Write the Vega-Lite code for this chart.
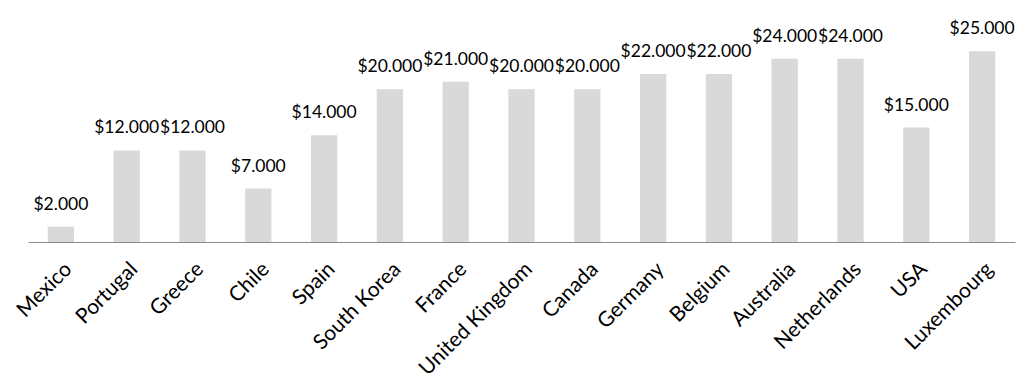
{
  "$schema": "https://vega.github.io/schema/vega-lite/v6.json",
  "width": 987,
  "height": 229,
  "autosize": {"type": "none"},
  "padding": {"left": 28, "top": 13, "right": 19, "bottom": 148},
  "background": "white",
  "config": {"view": {"stroke": null}, "font": "Lato"},
  "data": {"values": [
    {"country": "Mexico", "value": 2000},
    {"country": "Portugal", "value": 12000},
    {"country": "Greece", "value": 12000},
    {"country": "Chile", "value": 7000},
    {"country": "Spain", "value": 14000},
    {"country": "South Korea", "value": 20000},
    {"country": "France", "value": 21000},
    {"country": "United Kingdom", "value": 20000},
    {"country": "Canada", "value": 20000},
    {"country": "Germany", "value": 22000},
    {"country": "Belgium", "value": 22000},
    {"country": "Australia", "value": 24000},
    {"country": "Netherlands", "value": 24000},
    {"country": "USA", "value": 15000},
    {"country": "Luxembourg", "value": 25000}
  ]},
  "transform": [
    {"calculate": "'$' + replace(format(datum.value, ','), ',', '.')", "as": "label"}
  ],
  "encoding": {
    "x": {
      "field": "country", "type": "nominal", "sort": null,
      "scale": {"paddingInner": 0.6, "paddingOuter": 0.3},
      "axis": {
        "title": null, "labelAngle": -45, "labelFontSize": 21, "labelColor": "#000000",
        "labelFont": "Lato", "ticks": false, "labelPadding": 16,
        "domainColor": "#8c8c8c", "domainWidth": 1.2, "grid": false
      }
    },
    "y": {
      "field": "value", "type": "quantitative",
      "scale": {"domain": [0, 30000]},
      "axis": null
    }
  },
  "layer": [
    {"mark": {"type": "bar", "color": "#d9d9d9"}},
    {"mark": {"type": "text", "dy": -17, "baseline": "alphabetic", "fontSize": 17.5, "color": "#000000", "font": "Lato"},
     "encoding": {"text": {"field": "label"}}}
  ]
}
